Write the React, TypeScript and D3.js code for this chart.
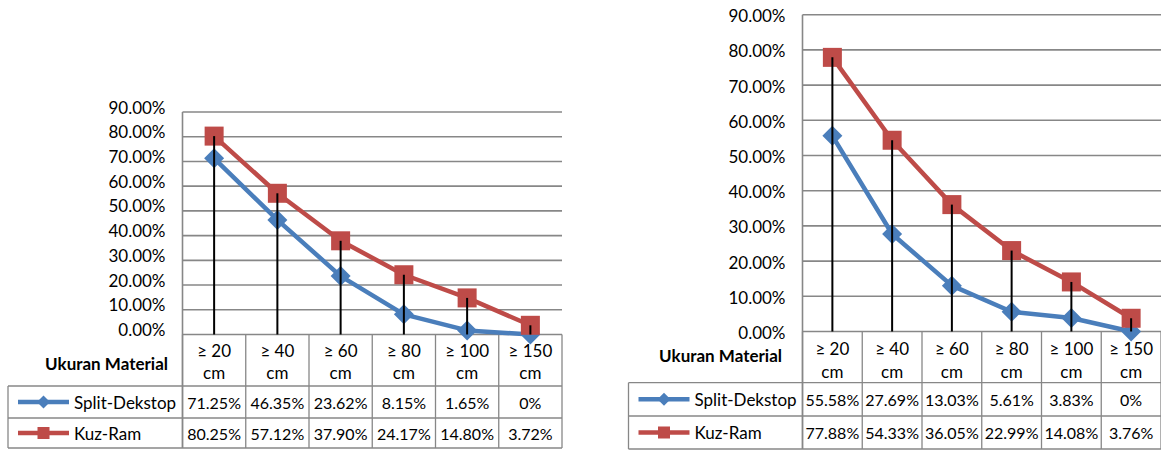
import React from 'react';
import * as d3 from 'd3';

// categories (two-line header: size + unit)
const categories = ['≥ 20', '≥ 40', '≥ 60', '≥ 80', '≥ 100', '≥ 150'];
const unitLabel = 'cm';
const rowTitle = 'Ukuran Material';
const yTicks = [0, 10, 20, 30, 40, 50, 60, 70, 80, 90];

const seriesNames = ['Split-Dekstop', 'Kuz-Ram'];
const seriesColors = ['#4A7EBB', '#BE4B48'];

// left chart
const leftSplit = [71.25, 46.35, 23.62, 8.15, 1.65, 0];
const leftKuz = [80.25, 57.12, 37.9, 24.17, 14.8, 3.72];
// right chart
const rightSplit = [55.58, 27.69, 13.03, 5.61, 3.83, 0];
const rightKuz = [77.88, 54.33, 36.05, 22.99, 14.08, 3.76];

const FONT = 'Lato, "Open Sans", sans-serif';
const GRID = '#878787';

const fmtCell = (v: number) => (v === 0 ? '0%' : v.toFixed(2) + '%');

type Layout = {
  boxLeft: number;
  plotLeft: number;
  plotRight: number;
  plotTop: number;
  plotBottom: number;
  headerBottom: number;
  rowDivider: number;
  tableBottom: number;
  tickDy: number;
  titleRight: number;
  titleY: number;
  catY1: number;
  catY2: number;
};

const Marker = ({ kind, x, y, size, color }: any) => {
  if (kind === 0) {
    const h = size / 2;
    return <polygon points={`${x},${y - h} ${x + h},${y} ${x},${y + h} ${x - h},${y}`} fill={color} />;
  }
  return <rect x={x - size / 2} y={y - size / 2} width={size} height={size} fill={color} />;
};

const Chart = ({ L, series }: { L: Layout; series: number[][] }) => {
  const x = d3.scaleBand<string>().domain(categories).range([L.plotLeft, L.plotRight]);
  const y = d3.scaleLinear().domain([0, 90]).range([L.plotBottom, L.plotTop]);
  const cx = (c: string) => (x(c) as number) + x.bandwidth() / 2;
  const line = d3
    .line<number>()
    .x((_, i) => cx(categories[i]))
    .y((d) => y(d));
  const rowYs = [(L.headerBottom + L.rowDivider) / 2, (L.rowDivider + L.tableBottom) / 2];
  const colEdges = categories.map((c) => x(c) as number).concat([L.plotRight]);

  return (
    <g fontFamily={FONT} fill="#000">
      {/* gridlines */}
      {yTicks.map((t) => (
        <line key={t} x1={L.plotLeft} x2={L.plotRight} y1={y(t)} y2={y(t)} stroke={GRID} strokeWidth={1.6} />
      ))}
      {/* y tick labels */}
      {yTicks.map((t) => (
        <text key={'l' + t} x={L.plotLeft - 17} y={y(t) + L.tickDy} textAnchor="end" dominantBaseline="central" fontSize={17}>
          {t.toFixed(2) + '%'}
        </text>
      ))}
      {/* y axis line */}
      <line x1={L.plotLeft} x2={L.plotLeft} y1={L.plotTop} y2={L.tableBottom} stroke={GRID} strokeWidth={1.6} />
      {/* table borders */}
      {colEdges.map((e, i) => (
        <line key={'c' + i} x1={e} x2={e} y1={L.plotBottom} y2={L.tableBottom} stroke={GRID} strokeWidth={1.3} />
      ))}
      <line x1={L.boxLeft} x2={L.boxLeft} y1={L.headerBottom} y2={L.tableBottom} stroke={GRID} strokeWidth={1.3} />
      {[L.headerBottom, L.rowDivider, L.tableBottom].map((yy, i) => (
        <line key={'r' + i} x1={L.boxLeft} x2={L.plotRight} y1={yy} y2={yy} stroke={GRID} strokeWidth={1.3} />
      ))}
      {/* header */}
      <text x={L.titleRight} y={L.titleY} textAnchor="end" dominantBaseline="central" fontSize={17} fontWeight="bold">
        {rowTitle}
      </text>
      {categories.map((c) => (
        <g key={'h' + c}>
          <text x={cx(c)} y={L.catY1} textAnchor="middle" dominantBaseline="central" fontSize={17}>
            {c}
          </text>
          <text x={cx(c)} y={L.catY2} textAnchor="middle" dominantBaseline="central" fontSize={17}>
            {unitLabel}
          </text>
        </g>
      ))}
      {/* legend + values */}
      {series.map((s, si) => (
        <g key={'row' + si}>
          <line
            x1={L.boxLeft + 10}
            x2={L.boxLeft + 61}
            y1={rowYs[si]}
            y2={rowYs[si]}
            stroke={seriesColors[si]}
            strokeWidth={4.5}
          />
          <Marker kind={si} x={L.boxLeft + 35.5} y={rowYs[si]} size={si === 0 ? 13 : 12} color={seriesColors[si]} />
          <text x={L.boxLeft + 66} y={rowYs[si]} dominantBaseline="central" fontSize={17}>
            {seriesNames[si]}
          </text>
          {s.map((v, i) => (
            <text key={i} x={cx(categories[i])} y={rowYs[si]} textAnchor="middle" dominantBaseline="central" fontSize={16}>
              {fmtCell(v)}
            </text>
          ))}
        </g>
      ))}
      {/* series */}
      {series.map((s, si) => (
        <g key={'s' + si}>
          <path d={line(s) as string} fill="none" stroke={seriesColors[si]} strokeWidth={4.5} strokeLinejoin="round" />
          {s.map((v, i) => (
            <Marker key={i} kind={si} x={cx(categories[i])} y={y(v)} size={si === 0 ? 20 : 19} color={seriesColors[si]} />
          ))}
        </g>
      ))}
      {/* drop lines from the highest point to the axis */}
      {categories.map((c, i) => (
        <line
          key={'d' + i}
          x1={cx(c)}
          x2={cx(c)}
          y1={y(d3.max(series, (s) => s[i]) as number)}
          y2={L.plotBottom}
          stroke="#000"
          strokeWidth={2}
        />
      ))}
    </g>
  );
};

const leftLayout: Layout = {
  boxLeft: 8,
  plotLeft: 182.5,
  plotRight: 562,
  plotTop: 112,
  plotBottom: 334.5,
  headerBottom: 386,
  rowDivider: 418,
  tableBottom: 448,
  tickDy: -5,
  titleRight: 168,
  titleY: 363,
  catY1: 350,
  catY2: 372,
};

const rightLayout: Layout = {
  boxLeft: 628.5,
  plotLeft: 802.5,
  plotRight: 1161,
  plotTop: 14.7,
  plotBottom: 331.5,
  headerBottom: 382.7,
  rowDivider: 416,
  tableBottom: 449,
  tickDy: 1,
  titleRight: 782,
  titleY: 355,
  catY1: 348,
  catY2: 371,
};

export default function App() {
  return (
    <svg width={1161} height={450} style={{ position: 'absolute', left: 0, top: 0, background: '#fff' }}>
      <rect width={1161} height={450} fill="#fff" />
      <Chart L={leftLayout} series={[leftSplit, leftKuz]} />
      <Chart L={rightLayout} series={[rightSplit, rightKuz]} />
    </svg>
  );
}
